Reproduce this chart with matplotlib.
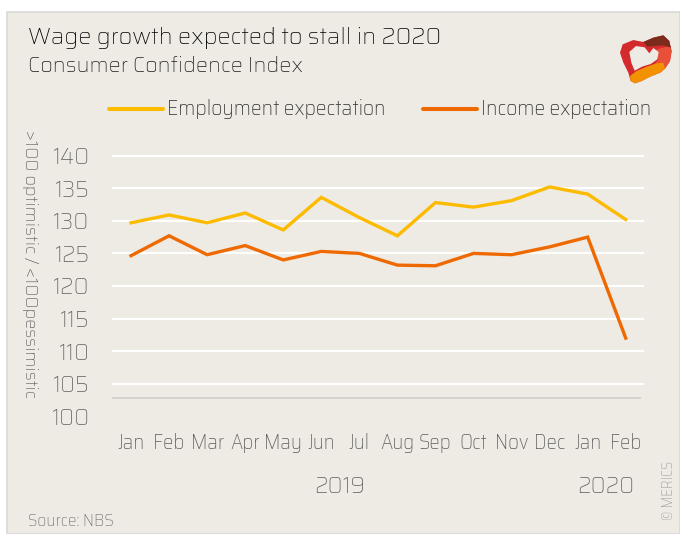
import matplotlib
matplotlib.use("Agg")
import matplotlib.pyplot as plt
from matplotlib.patches import Rectangle, Polygon

BODY = ["Saira SemiCondensed", "DejaVu Sans"]
WIDE = ["Saira", "DejaVu Sans"]
plt.rcParams['font.family'] = BODY

months = ["Jan", "Feb", "Mar", "Apr", "May", "Jun", "Jul", "Aug", "Sep", "Oct", "Nov", "Dec", "Jan", "Feb"]
employment = [129.7, 130.9, 129.7, 131.2, 128.6, 133.6, 130.5, 127.7, 132.8, 132.1, 133.1, 135.2, 134.1, 130.2]
income = [124.65, 127.7, 124.8, 126.2, 124.0, 125.3, 125.0, 123.2, 123.1, 125.0, 124.8, 126.0, 127.5, 112.0]
yticks = [100, 105, 110, 115, 120, 125, 130, 135, 140]

BG = "#EEEAE4"
YEL = "#FDBB00"
ORA = "#EE6A00"
GRAY = "#5E5E5E"

W, H = 680, 534
fig = plt.figure(figsize=(6.8, 5.34), dpi=100)
fig.patch.set_facecolor("white")

def fx(px):
    return px / W

def fy(py):
    return 1 - py / H

# panel background with border
fig.patches.append(Rectangle((fx(7), 0), 1 - fx(7), fy(12), transform=fig.transFigure,
                             facecolor=BG, edgecolor="#D9D9D9", lw=1.2, zorder=-10))

ax = fig.add_axes([fx(112), fy(416.3), fx(644) - fx(112), (416.3 - 153.7) / H])
ax.patch.set_alpha(0)
x = list(range(len(months)))
ax.plot(x, employment, color=YEL, lw=2.4, solid_joinstyle="miter", zorder=3)
ax.plot(x, income, color=ORA, lw=2.4, solid_joinstyle="miter", zorder=3)
ax.set_xlim(-0.5, 13.48)
ax.set_ylim(100, 140.3)
ax.set_yticks(yticks)
ax.set_xticks(x)
ax.set_xticklabels(months)
ax.grid(axis="y", color="white", lw=1.6, zorder=1)
ax.yaxis.get_gridlines()[0].set_visible(False)
for s in ax.spines.values():
    s.set_visible(False)
ax.tick_params(length=0, colors=GRAY, labelsize=16)
ax.tick_params(axis="y", pad=16)
ax.tick_params(axis="x", pad=12)
for t in ax.get_yticklabels():
    t.set_fontfamily(WIDE)
    t.set_fontweight("light")
for t in ax.get_xticklabels():
    t.set_fontweight("light")
    t.set_fontsize(15)
ax.axhline(102.75, xmin=0, xmax=(640 - 112) / 532, color="#D3D0CC", lw=1.3, zorder=2)

# titles
fig.text(fx(28), fy(38), "Wage growth expected to stall in 2020", fontsize=16.8,
         family=WIDE, color="black", va="center", ha="left")
fig.text(fx(28), fy(66), "Consumer Confidence Index", fontsize=15.5, fontweight="light",
         family=WIDE, color="#1E1E1E", va="center", ha="left")

# legend
fig.lines.append(plt.Line2D([fx(109), fx(163)], [fy(109), fy(109)], transform=fig.transFigure,
                            color=YEL, lw=2.9, solid_capstyle="round"))
fig.text(fx(167), fy(109), "Employment expectation", fontsize=15.5, fontweight="light",
         color="#2E2E2E", va="center", ha="left")
fig.lines.append(plt.Line2D([fx(423), fx(477)], [fy(109), fy(109)], transform=fig.transFigure,
                            color=ORA, lw=2.9, solid_capstyle="round"))
fig.text(fx(481), fy(109), "Income expectation", fontsize=15.5, fontweight="light",
         color="#2E2E2E", va="center", ha="left")

# y label
fig.text(fx(30), fy(264), ">100 optimistic / <100pessimistic", rotation=-90, fontsize=13,
         family=WIDE, fontweight="light", color="#555555", va="center", ha="center")

# years
fig.text(fx(340), fy(487), "2019", fontsize=16, family=WIDE, fontweight="light", color=GRAY,
         va="center", ha="center")
fig.text(fx(606), fy(487), "2020", fontsize=16, family=WIDE, fontweight="light", color=GRAY,
         va="center", ha="center")

# source and copyright
fig.text(fx(28), fy(521), "Source: NBS", fontsize=12.5, fontweight="light", color="#737373",
         va="center", ha="left")
fig.text(fx(669), fy(490), "© MERICS", rotation=90, fontsize=10.5, fontweight="light",
         color="#9A9A9A", va="center", ha="center")

# logo (approximation), drawn in a 198x198 box covering pixels 610..676 x 26..92
lax = fig.add_axes([fx(610), fy(92), fx(676) - fx(610), 66 / H])
lax.set_xlim(0, 198)
lax.set_ylim(198, 0)
lax.axis("off")
outer = [(38, 55), (70, 42), (100, 48), (130, 35), (160, 28), (178, 45), (185, 75),
         (180, 105), (165, 128), (150, 140), (120, 152), (95, 165), (75, 172), (62, 165),
         (55, 140), (40, 110), (30, 80)]
lax.add_patch(Polygon(outer, closed=True, facecolor="#D42A2E", edgecolor="none"))
right = [(140, 70), (178, 60), (185, 75), (180, 105), (165, 128), (150, 140), (130, 120),
         (145, 100)]
lax.add_patch(Polygon(right, closed=True, facecolor="#E9503A", edgecolor="none"))
bottom = [(60, 150), (80, 135), (110, 122), (140, 112), (160, 110), (165, 128), (150, 140),
          (120, 152), (95, 165), (75, 172), (62, 165)]
lax.add_patch(Polygon(bottom, closed=True, facecolor="#F39200", edgecolor="none"))
top = [(100, 48), (130, 35), (160, 28), (178, 45), (182, 65), (160, 58), (135, 60), (112, 62)]
lax.add_patch(Polygon(top, closed=True, facecolor="#7C2A1C", edgecolor="none"))
hole = [(58, 78), (78, 60), (104, 64), (118, 82), (130, 66), (146, 78), (142, 100),
        (122, 114), (96, 122), (74, 134), (64, 110)]
lax.add_patch(Polygon(hole, closed=True, facecolor=BG, edgecolor="none"))

fig.savefig("out.png", dpi=100, facecolor=fig.get_facecolor())
